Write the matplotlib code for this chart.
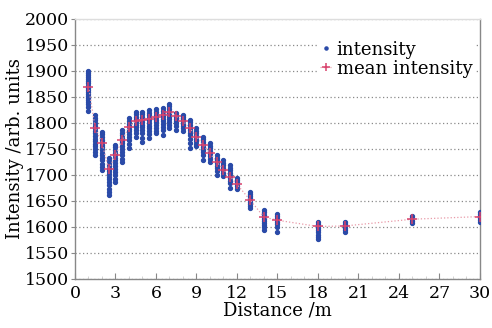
import matplotlib
matplotlib.use("Agg")
import matplotlib.pyplot as plt
from matplotlib.ticker import MultipleLocator

plt.rcParams['font.family'] = ['DejaVu Serif']

# measurement distances (m)
distance = [1.0, 1.5, 2.0, 2.5, 3.0, 3.5, 4.0, 4.5, 5.0, 5.5, 6.0, 6.5, 7.0, 7.5, 8.0,
            8.5, 9.0, 9.5, 10.0, 10.5, 11.0, 11.5, 12.0, 13, 14, 15, 18, 20, 25, 30]

# individual intensity readings at each distance
samples = [
    [1900, 1896, 1892, 1888, 1884, 1880, 1876, 1872, 1868, 1864, 1860, 1856, 1852, 1848, 1844, 1840, 1836, 1830, 1824],
    [1815, 1810, 1805, 1800, 1795, 1790, 1785, 1780, 1775, 1770, 1765, 1760, 1755, 1750, 1745, 1738],
    [1783, 1778, 1773, 1768, 1763, 1758, 1753, 1748, 1743, 1738, 1733, 1728, 1722, 1716, 1710],
    [1732, 1727, 1722, 1717, 1712, 1707, 1702, 1697, 1692, 1686, 1680, 1674, 1668, 1662],
    [1758, 1753, 1748, 1743, 1738, 1733, 1728, 1723, 1718, 1712, 1706, 1700, 1693, 1687],
    [1786, 1781, 1776, 1771, 1766, 1761, 1756, 1750, 1744, 1738, 1731, 1725],
    [1809, 1804, 1799, 1794, 1789, 1784, 1779, 1773, 1767, 1760, 1751],
    [1822, 1817, 1812, 1807, 1802, 1797, 1792, 1786, 1780, 1774],
    [1822, 1817, 1812, 1807, 1802, 1797, 1792, 1786, 1780, 1772, 1764],
    [1825, 1820, 1815, 1810, 1805, 1800, 1795, 1790, 1784, 1778, 1771],
    [1826, 1821, 1816, 1811, 1806, 1801, 1796, 1790, 1785, 1780],
    [1828, 1823, 1818, 1813, 1808, 1803, 1798, 1792, 1786, 1777],
    [1837, 1832, 1827, 1822, 1817, 1812, 1807, 1802, 1796, 1790],
    [1820, 1816, 1812, 1808, 1804, 1800, 1795, 1787],
    [1815, 1811, 1807, 1803, 1799, 1795, 1790, 1785],
    [1806, 1801, 1796, 1791, 1786, 1781, 1776, 1770, 1762, 1751],
    [1790, 1785, 1780, 1775, 1770, 1765, 1760, 1755],
    [1774, 1769, 1764, 1759, 1754, 1749, 1744, 1738, 1729],
    [1761, 1756, 1751, 1746, 1741, 1736, 1731, 1725],
    [1738, 1733, 1728, 1723, 1718, 1713, 1707, 1700],
    [1729, 1724, 1719, 1714, 1709, 1704, 1698],
    [1719, 1714, 1709, 1704, 1699, 1694, 1689, 1684, 1675],
    [1694, 1690, 1686, 1682, 1678, 1674],
    [1668, 1664, 1660, 1656, 1652, 1648, 1644, 1640, 1636],
    [1632, 1628, 1624, 1620, 1616, 1612, 1608, 1604, 1600, 1594],
    [1625, 1621, 1617, 1613, 1609, 1605, 1600, 1591],
    [1610, 1606, 1602, 1598, 1594, 1590, 1585, 1580, 1576],
    [1610, 1606, 1602, 1598, 1594, 1591],
    [1621, 1618, 1615, 1612, 1608],
    [1629, 1625, 1621, 1617, 1613, 1610],
]

mean_intensity = [1870, 1790, 1762, 1711, 1738, 1768, 1792, 1804, 1806, 1808, 1812, 1816,
                  1822, 1813, 1804, 1790, 1774, 1758, 1742, 1725, 1710, 1697, 1682,
                  1651, 1619, 1613, 1601, 1602, 1615, 1620]

xs = []
ys = []
for d, vals in zip(distance, samples):
    for v in vals:
        xs.append(d)
        ys.append(v)

fig = plt.figure(figsize=(4.92, 3.28), dpi=100)
ax = fig.add_axes([0.1524, 0.1494, 0.8232, 0.7927])

blue = '#2a4aa8'
red = '#d8426c'

ax.plot(xs, ys, linestyle='none', marker='o', ms=2.8, color=blue, mec=blue,
        label='intensity', zorder=3)
ax.plot(distance, mean_intensity, linestyle=':', lw=0.9, color='#e89aa8',
        marker='+', ms=6.5, mew=1.1, mec=red, label='mean intensity', zorder=4)

ax.set_xlim(0, 30)
ax.set_ylim(1500, 2000)
ax.xaxis.set_major_locator(MultipleLocator(3))
ax.xaxis.set_minor_locator(MultipleLocator(1))
ax.yaxis.set_major_locator(MultipleLocator(50))

ax.yaxis.grid(True, linestyle=(0, (1, 2)), color='#8a8a8a', lw=0.9)
ax.set_axisbelow(True)

for s in ax.spines.values():
    s.set_color('#888888')
    s.set_linewidth(1.0)
ax.spines['top'].set_color('#dddddd')

ax.tick_params(axis='x', which='major', direction='in', length=4, color='#888888',
               labelsize=12.5, pad=4)
ax.tick_params(axis='x', which='minor', direction='in', length=2, color='#cccccc')
ax.tick_params(axis='y', direction='out', length=3, color='#888888', labelsize=12.5, pad=1)

ax.set_xlabel('Distance /m', fontsize=13, labelpad=0)
ax.set_ylabel('Intensity /arb. units', fontsize=13, labelpad=1)

leg = ax.legend(loc='upper right', bbox_to_anchor=(1.012, 0.965), fontsize=13,
                frameon=True, facecolor='white', edgecolor='none', framealpha=1,
                handlelength=0.6, handletextpad=0.3, borderpad=0.2, labelspacing=0.05,
                markerscale=0.8)

fig.savefig('out.png', dpi=100)
